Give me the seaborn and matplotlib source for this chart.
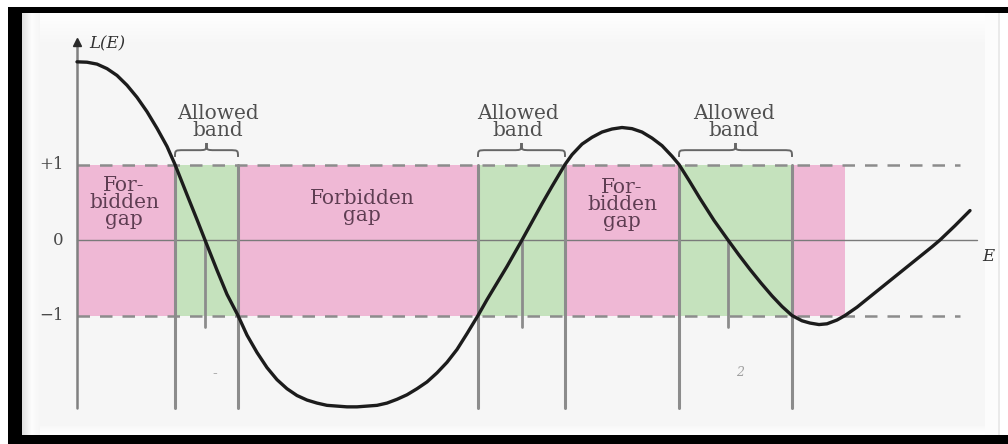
import numpy as np
import matplotlib
matplotlib.use("Agg")
import matplotlib.pyplot as plt
from matplotlib.path import Path
from matplotlib.patches import PathPatch
import seaborn as sns

# L(E)
energy = [0.00, 0.10, 0.20, 0.30, 0.40, 0.50, 0.60, 0.70, 0.80, 0.90, 0.98, 1.10,
          1.20, 1.28, 1.40, 1.50, 1.61, 1.70, 1.80, 1.90, 2.00, 2.10, 2.20, 2.30,
          2.40, 2.50, 2.60, 2.70, 2.80, 2.90, 3.00, 3.10, 3.20, 3.30, 3.40, 3.50,
          3.60, 3.70, 3.80, 3.90, 4.01, 4.10, 4.20, 4.30, 4.45, 4.55, 4.65, 4.75,
          4.88, 4.95, 5.05, 5.15, 5.25, 5.35, 5.45, 5.55, 5.65, 5.75, 5.85, 5.95,
          6.02, 6.12, 6.23, 6.37, 6.51, 6.62, 6.73, 6.84, 6.95, 7.05, 7.15, 7.25,
          7.33, 7.42, 7.50, 7.60, 7.68, 7.80, 7.95, 8.10, 8.25, 8.40, 8.55, 8.63,
          8.78, 8.93]
l_value = [2.36, 2.355, 2.33, 2.27, 2.18, 2.05, 1.89, 1.70, 1.48, 1.24, 1.00, 0.60,
           0.27, 0.00, -0.40, -0.72, -1.00, -1.26, -1.49, -1.69, -1.85, -1.97, -2.06, -2.12,
           -2.16, -2.19, -2.20, -2.21, -2.21, -2.20, -2.19, -2.16, -2.11, -2.05, -1.97, -1.88,
           -1.76, -1.62, -1.45, -1.24, -1.00, -0.79, -0.57, -0.35, 0.00, 0.24, 0.48, 0.71,
           1.00, 1.13, 1.27, 1.36, 1.43, 1.47, 1.49, 1.475, 1.43, 1.35, 1.25, 1.11,
           1.00, 0.79, 0.55, 0.26, 0.00, -0.20, -0.39, -0.57, -0.74, -0.88, -1.00, -1.07,
           -1.10, -1.12, -1.11, -1.06, -1.00, -0.89, -0.73, -0.57, -0.41, -0.25, -0.09, 0.00,
           0.19, 0.39]

# Energy intervals
gap_edges = [(0.00, 0.98), (1.61, 4.01), (4.88, 6.02), (7.15, 7.68)]
band_edges = [(0.98, 1.61), (4.01, 4.88), (6.02, 7.15)]
band_midpoints = [1.28, 4.45, 6.51]
gap_labels = ["For-\nbidden\ngap", "Forbidden\ngap", "For-\nbidden\ngap"]
band_label = "Allowed\nband"
tick_values = [1, 0, -1]
tick_labels = ["+1", "0", "\u22121"]

PINK = "#efb8d5"
GREEN = "#c5e2bd"
GREY = "#8c8c8c"
SERIF = ["DejaVu Serif"]

sns.set_theme(style="white")
plt.rcParams["font.family"] = SERIF

W, H = 1008, 444
fig = plt.figure(figsize=(W / 100, H / 100), dpi=100)
fig.patch.set_facecolor("white")
ax = fig.add_axes([0, 0, 1, 1])
xlim = (-0.77, 9.31)
ylim = (-2.702, 3.179)
ax.set_xlim(*xlim)
ax.set_ylim(*ylim)
ax.axis("off")

# bevelled frame backdrop
bg = np.ones((H, W))
bg[13:435, 22:1000] = 0.966
bg[13:435, 22:32] = np.linspace(0.88, 0.99, 10)[None, :]
bg[13:435, 32:40] = np.linspace(0.99, 0.966, 8)[None, :]
bg[13:45, 40:1000] = np.linspace(1.0, 0.966, 32)[:, None]
bg[426:435, 40:1000] = np.linspace(0.975, 1.0, 9)[:, None]
bg[13:435, 985:998] = 0.99
bg[13:435, 998:1000] = 0.92
bg[0:7, :] = 1.0
bg[:, 0:8] = 1.0
bg[7:13, 8:] = 0.0
bg[7:, 8:22] = 0.0
bg[435:, 8:] = 0.0
ax.imshow(np.dstack([bg] * 3), extent=[*xlim, *ylim], aspect="auto",
          origin="upper", zorder=0, interpolation="bilinear")

# forbidden gaps and allowed bands
for e0, e1 in gap_edges:
    ax.fill_between([e0, e1], -1, 1, color=PINK, lw=0, zorder=1)
for e0, e1 in band_edges:
    ax.fill_between([e0, e1], -1, 1, color=GREEN, lw=0, zorder=1)

# reference levels
for lv in (1, -1):
    ax.plot([0, 8.83], [lv, lv], color=GREY, lw=1.8, ls=(0, (5, 4)), zorder=2)
ax.plot([0, 9.0], [0, 0], color="#7a7a7a", lw=1.0, zorder=2)

# band-edge drop lines
edges = sorted({e for pair in band_edges for e in pair})
for e in edges:
    ax.plot([e, e], [1, -2.225], color=GREY, lw=2.2, zorder=2)
for e in band_midpoints:
    ax.plot([e, e], [0, -1.15], color=GREY, lw=2.0, zorder=2)

# vertical axis with arrow
ax.plot([0, 0], [-2.225, 2.60], color="#808080", lw=1.8, zorder=2)
ax.plot([0], [2.62], marker="^", ms=6, color="#2a2a2a", zorder=3)

# the curve
sns.lineplot(x=energy, y=l_value, sort=False, color="#1c1c1c", lw=2.4, ax=ax, zorder=4)


def brace(x0, x1, y_end=1.10, y_mid=1.19, y_tip=1.285, r=0.09):
    xm = 0.5 * (x0 + x1)
    verts = [(x0, y_end), (x0, y_mid), (x0, y_mid), (x0 + r, y_mid),
             (xm - r, y_mid),
             (xm, y_mid), (xm, y_mid), (xm, y_tip),
             (xm, y_mid), (xm, y_mid), (xm + r, y_mid),
             (x1 - r, y_mid),
             (x1, y_mid), (x1, y_mid), (x1, y_end)]
    codes = [Path.MOVETO, Path.CURVE4, Path.CURVE4, Path.CURVE4,
             Path.LINETO,
             Path.CURVE4, Path.CURVE4, Path.CURVE4,
             Path.CURVE4, Path.CURVE4, Path.CURVE4,
             Path.LINETO,
             Path.CURVE4, Path.CURVE4, Path.CURVE4]
    ax.add_patch(PathPatch(Path(verts, codes), fill=False, ec="#666666", lw=1.4, zorder=3))


txt = dict(family=SERIF, fontsize=14.5, ha="center", va="center",
           multialignment="center", linespacing=0.86, zorder=5)
band_text_x = [1.41, 4.41, 6.57]
for (e0, e1), tx in zip(band_edges, band_text_x):
    brace(e0, e1)
    ax.text(tx, 1.56, band_label, color="#505050", **txt)

gap_text_x = [0.47, 2.85, 5.45]
gap_text_y = [0.50, 0.44, 0.47]
for s, tx, ty in zip(gap_labels, gap_text_x, gap_text_y):
    ax.text(tx, ty, s, color="#5e3d52", **txt)

for v, s in zip(tick_values, tick_labels):
    ax.text(-0.13, v, s, family=SERIF, fontsize=12, ha="right", va="center",
            color="#4a4a4a", zorder=5)

ax.text(0.12, 2.60, "L(E)", family=SERIF, fontsize=12, style="italic",
        ha="left", va="center", color="#333333", zorder=5)
ax.text(9.05, -0.22, "E", family=SERIF, fontsize=12, style="italic",
        ha="left", va="center", color="#333333", zorder=5)

# faint marks under the bands
ax.text(1.38, -1.78, "-", family=SERIF, fontsize=10, color="#9a9a9a", ha="center", va="center", zorder=5)
ax.text(6.63, -1.76, "2", family=SERIF, fontsize=9, color="#a0a0a0", ha="center", va="center",
        style="italic", zorder=5)

fig.savefig("out.png", dpi=100)
